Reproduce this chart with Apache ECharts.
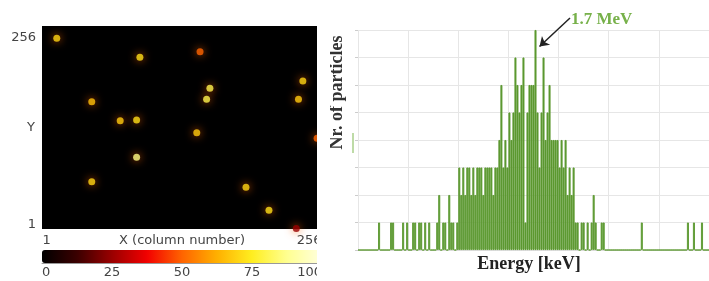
<!DOCTYPE html>
<html>
<head>
<meta charset="utf-8">
<script src="https://cdn.jsdelivr.net/npm/echarts@6.0.0/dist/echarts.min.js"></script>
<style>
html, body { margin: 0; padding: 0; background: #fff; }
#main { width: 709px; height: 281px; }
</style>
</head>
<body>
<div id="main"></div>
<script>
// left: 256 x 256 detector frame, one spot per particle hit
var spotCol = [14, 90, 145, 239, 154, 151, 235, 46, 72, 87, 142, 252, 87, 46, 187, 208, 233];
var spotRow = [241, 217, 224, 187, 178, 164, 164, 161, 137, 138, 122, 115, 91, 60, 53, 24, 1];
var spotVal = [70, 72, 50, 70, 80, 80, 68, 66, 68, 72, 68, 50, 86, 70, 70, 72, 25];
var colorbarTicks = [0, 25, 50, 75, 100];
var hotColors = ['#000000', '#3a0000', '#9a0000', '#f20000', '#ff6400', '#ffb000', '#ffee20', '#ffff90', '#ffffe0'];

// right: energy spectrum, 20 keV bins starting at 0 keV
var binKeV = 20;
var counts = [
  0,0,0,0,0, 0,0,0,0,0, 1,0,0,0,0, 0,1,1,0,0, 0,0,1,0,1,
  0,0,1,1,0, 1,1,0,1,0, 1,0,0,0,1, 2,0,1,1,0, 2,1,1,0,1,
  3,2,3,2,3, 3,2,3,2,3, 3,3,2,3,3, 3,3,2,3,3, 4,6,3,4,3,
  5,4,5,7,6, 5,6,7,1,5, 6,6,6,8,5, 3,5,7,4,5, 6,4,4,4,4,
  3,4,3,4,2, 3,2,3,1,1, 0,1,1,0,1, 0,1,2,1,0, 0,1,1,0,0,
  0,0,0,0,0, 0,0,0,0,0, 0,0,0,0,0, 0,1,0,0,0, 0,0,0,0,0,
  0,0,0,0,0, 0,0,0,0,0, 0,0,0,0,1, 0,0,1,0,0, 0,1,0,0,0
];
var peakLabel = '1.7 MeV';

var energies = counts.map(function (c, i) { return String(i * binKeV); });
var spots = spotCol.map(function (x, i) { return [x, spotRow[i], spotVal[i]]; });

var sans = 'DejaVu Sans';
var serif = 'Liberation Serif';

var chart = echarts.init(document.getElementById('main'), null, { renderer: 'canvas' });

var option = {
  backgroundColor: '#ffffff',
  animation: false,
  grid: [
    { left: 42, top: 26, width: 280, height: 203, show: true, backgroundColor: '#000', borderWidth: 0 },
    { left: 42, top: 250, width: 280, height: 13 },
    { left: 358, top: 30, right: -6, bottom: 31 }
  ],
  visualMap: {
    type: 'continuous',
    seriesIndex: 0,
    min: colorbarTicks[0],
    max: colorbarTicks[colorbarTicks.length - 1],
    orient: 'horizontal',
    left: 42,
    top: 250,
    itemWidth: 13,
    itemHeight: 280,
    padding: 0,
    calculable: false,
    hoverLink: false,
    inRange: { color: hotColors }
  },
  xAxis: [
    {
      gridIndex: 0, type: 'value', min: 0.5, max: 256.5,
      name: 'X (column number)', nameLocation: 'middle', nameGap: 5, nameMoveOverlap: false,
      nameTextStyle: { fontFamily: sans, fontSize: 13, color: '#444' },
      axisLine: { show: false }, axisTick: { show: false }, splitLine: { show: false },
      axisLabel: {
        customValues: [1, 256], alignMinLabel: 'left', alignMaxLabel: 'right',
        margin: 5, fontFamily: sans, fontSize: 13, color: '#444'
      }
    },
    {
      gridIndex: 1, type: 'value',
      min: colorbarTicks[0], max: colorbarTicks[colorbarTicks.length - 1],
      interval: colorbarTicks[1] - colorbarTicks[0],
      axisLine: { show: true, lineStyle: { color: '#999' } },
      axisTick: { show: false }, splitLine: { show: false },
      axisLabel: { margin: 3, alignMinLabel: 'left', alignMaxLabel: 'right', fontFamily: sans, fontSize: 13, color: '#444' }
    },
    {
      gridIndex: 2, type: 'category', data: energies, boundaryGap: true,
      name: 'Energy [keV]', nameLocation: 'middle', nameGap: 5, nameMoveOverlap: false,
      nameTextStyle: { fontFamily: serif, fontWeight: 'bold', fontSize: 18, color: '#222', padding: [0, 9, 0, 0] },
      axisLine: { lineStyle: { color: '#dcdcdc' } },
      axisTick: { show: false },
      axisLabel: { show: false },
      splitLine: { show: true, interval: 24, lineStyle: { color: '#e6e6e6' } }
    }
  ],
  yAxis: [
    {
      gridIndex: 0, type: 'value', min: 0.5, max: 256.5,
      name: 'Y', nameLocation: 'middle', nameRotate: 0, nameGap: 7, nameMoveOverlap: false,
      nameTextStyle: { fontFamily: sans, fontSize: 13, color: '#444', padding: [0, 0, 20, 0] },
      axisLine: { show: false }, axisTick: { show: false }, splitLine: { show: false },
      axisLabel: {
        customValues: [1, 256], margin: 6, fontFamily: sans, fontSize: 13, color: '#444',
        formatter: function (v) { return v === 256 ? '{top|256}' : '{bot|1}'; },
        rich: {
          top: { padding: [23, 0, 0, 0], fontFamily: sans, fontSize: 13, color: '#444' },
          bot: { padding: [0, 0, 7, 0], fontFamily: sans, fontSize: 13, color: '#444' }
        }
      }
    },
    { gridIndex: 1, type: 'value', show: false },
    {
      gridIndex: 2, type: 'value', min: 0, max: 8, interval: 1,
      name: 'Nr. of particles', nameLocation: 'middle', nameGap: 12, nameMoveOverlap: false,
      nameTextStyle: { fontFamily: serif, fontWeight: 'bold', fontSize: 18, color: '#333', padding: [0, 0, 0, 95] },
      axisLine: { show: false },
      axisTick: { show: true, length: 3, lineStyle: { color: '#ccc' } },
      axisLabel: { show: false },
      splitLine: { lineStyle: { color: '#e6e6e6' } }
    }
  ],
  series: [
    {
      type: 'scatter',
      xAxisIndex: 0, yAxisIndex: 0,
      data: spots,
      symbolSize: 7,
      clip: true,
      itemStyle: { shadowBlur: 9, shadowColor: 'rgba(255,100,0,1)' }
    },
    {
      type: 'bar',
      xAxisIndex: 2, yAxisIndex: 2,
      data: counts,
      barCategoryGap: '0%',
      itemStyle: { color: '#5b9830', borderColor: '#5b9830', borderWidth: 0.9 },
      markLine: {
        silent: true,
        animation: false,
        symbol: ['none', 'arrow'],
        symbolSize: 9,
        label: { show: false },
        lineStyle: { color: '#222', width: 1.5, type: 'solid' },
        data: [[{ x: 570, y: 18 }, { coord: [90, 7.4] }]]
      }
    }
  ],
  graphic: [
    // the original figure is cut off on the right of the frame
    { type: 'rect', z: 100, shape: { x: 317, y: 0, width: 13, height: 281 }, style: { fill: '#fff' } },
    { type: 'line', z: 100, shape: { x1: 353, y1: 133, x2: 353, y2: 153 }, style: { stroke: '#a8cf8a', lineWidth: 1.5 } },
    {
      type: 'text', z: 100, x: 571, y: 11,
      style: { text: peakLabel, font: 'bold 17px "Liberation Serif"', fill: '#77b14a' }
    }
  ]
};

chart.setOption(option);
</script>
</body>
</html>
